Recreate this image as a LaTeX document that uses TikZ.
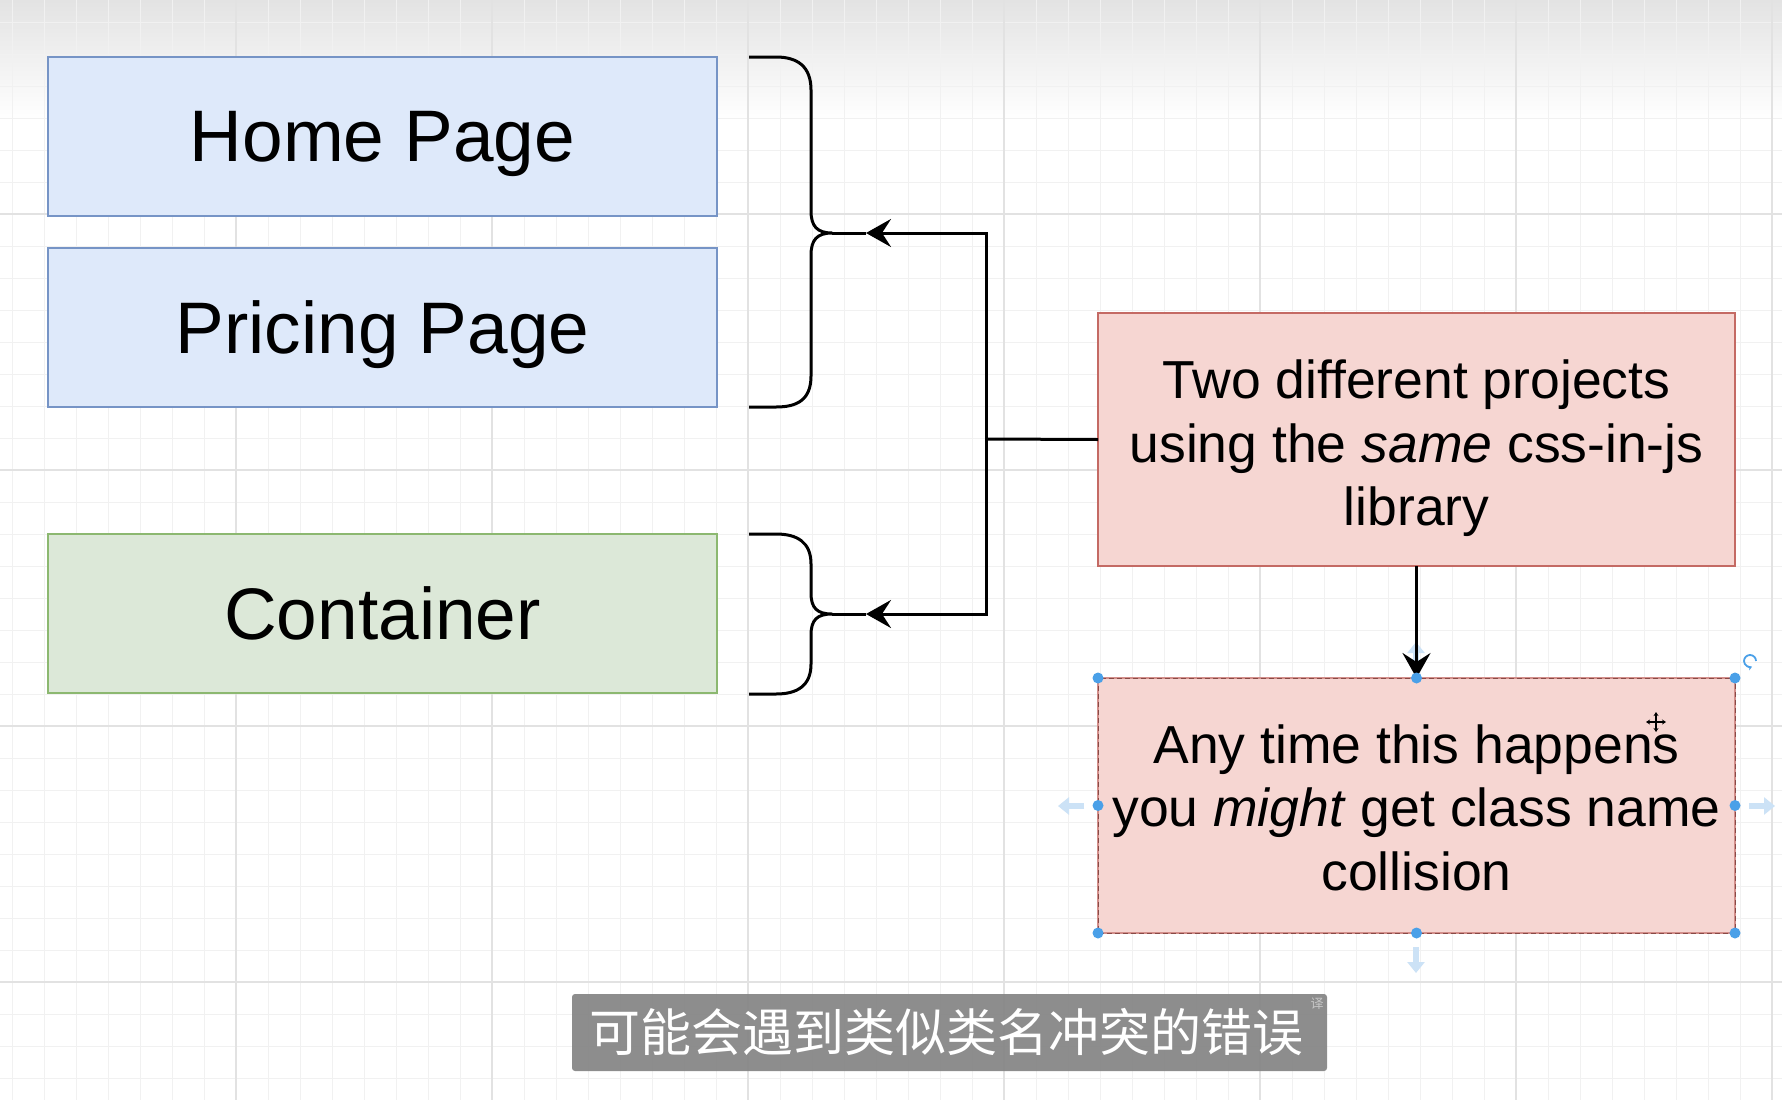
\documentclass[tikz,border=0pt]{standalone}
\usepackage{fontspec}
\setmainfont{Liberation Sans}
\newfontfamily\cjkfont{Noto Sans CJK SC}
\usetikzlibrary{arrows.meta,calc}
\definecolor{bluefill}{RGB}{222,233,250}
\definecolor{blueline}{RGB}{118,148,198}
\definecolor{greenfill}{RGB}{220,232,216}
\definecolor{greenline}{RGB}{140,184,112}
\definecolor{redfill}{RGB}{246,214,210}
\definecolor{redline}{RGB}{196,106,100}
\definecolor{handle}{RGB}{74,160,232}
\definecolor{hover}{RGB}{204,226,246}
\definecolor{gridminor}{RGB}{241,241,241}
\definecolor{gridmajor}{RGB}{226,226,226}
\definecolor{subbg}{RGB}{132,132,132}
\begin{document}
\begin{tikzpicture}[x=1pt,y=-1pt,
  box/.style={draw, line width=2.6pt, minimum width=669pt, minimum height=159pt, inner sep=0pt, outer sep=0pt, text depth=0pt, font=\fontsize{73}{88}\selectfont},
  bluebox/.style={box, fill=bluefill, draw=blueline},
  greenbox/.style={box, fill=greenfill, draw=greenline},
  notebox/.style={fill=redfill, line width=2.6pt, minimum width=637pt, inner sep=0pt, outer sep=0pt},
  notetext/.style={inner sep=0pt, align=center, font=\fontsize{53.5}{63.5}\selectfont},
  conn/.style={line width=3pt, black},
  arr/.style={conn, -{Stealth[length=25pt,width=28pt,inset=9pt]}},
  brace/.style={line width=3pt, black, line join=round},
  hoverarr/.style={line width=6pt, hover, -{Triangle[length=11pt,width=17pt]}},
]
\useasboundingbox (0,0) rectangle (1782,1100);
% background
\fill[white] (0,0) rectangle (1782,1100);
\shade[top color=gray!22, bottom color=white] (0,0) rectangle (1782,120);
\foreach \i in {0,...,55} {\draw[gridminor, line width=1pt] ({12+32*\i},0) -- ({12+32*\i},1100);}
\foreach \i in {0,...,34} {\draw[gridminor, line width=1pt] (0,{22+32*\i}) -- (1782,{22+32*\i});}
\foreach \x in {236,492,748,1004,1260,1516,1772} {\draw[gridmajor, line width=1.4pt] (\x,0) -- (\x,1100);}
\foreach \y in {214,470,726,982} {\draw[gridmajor, line width=1.4pt] (0,\y) -- (1782,\y);}

% left boxes
\node[bluebox] (home) at (382.5,136.5) {Home Page};
\node[bluebox] (pricing) at (382.5,327.5) {Pricing Page};
\node[greenbox] (container) at (382.5,613.5) {Container};

% braces
\draw[brace] (749,57) -- (776,57) .. controls (797,57) and (811,66) .. (811,90) -- (811,211)
  .. controls (811,226) and (817,233) .. (832,233) .. controls (817,233) and (811,240) .. (811,255)
  -- (811,376) .. controls (811,400) and (797,407) .. (776,407) -- (749,407);
\draw[brace] (749,534) -- (776,534) .. controls (797,534) and (811,542) .. (811,564) -- (811,593)
  .. controls (811,608) and (817,614) .. (832,614) .. controls (817,614) and (811,620) .. (811,635)
  -- (811,664) .. controls (811,686) and (797,694) .. (776,694) -- (749,694);
\coordinate (b1) at (832,233);
\coordinate (b2) at (832,614);
\coordinate (t1) at (866,233);
\coordinate (t2) at (866,614);
\coordinate (j) at (986,439);

% right boxes
\node[notebox, draw=redline, minimum height=253pt] (proj) at (1416.5,439.5) {};
\node[notetext] (projtext) at ($(proj.center)+(0,9)$)
  {Two different projects\\using the \textit{same} css-in-js\\library};
\node[notebox, minimum height=255pt] (hap) at (1416.5,805.5) {};
\node[notetext] (haptext) at ($(hap.center)+(0,2)$)
  {Any time this happens\\you \textit{might} get class name\\collision};
\draw[redline!75, line width=2pt] (hap.north west) rectangle (hap.south east);
\draw[redline!70!black, line width=1pt, dash pattern=on 5pt off 3pt] (hap.north west) rectangle (hap.south east);

% connectors
\draw[conn] (proj.west) -- (j);
\draw[arr] (j) |- (t1);
\draw[conn] (t1) -- (b1);
\draw[arr] (j) |- (t2);
\draw[conn] (t2) -- (b2);

% hover arrows (selection UI)
\draw[hoverarr] (1416,664) -- (1416,642);
\draw[hoverarr] (1084,806) -- (1058,806);
\draw[hoverarr] (1749,806) -- (1775,806);
\draw[hoverarr] (1416,947) -- (1416,973);

\draw[arr] (proj.south) -- (hap.north);

% selection handles
\foreach \a in {north west,north,north east,east,south east,south,south west,west}
  {\fill[handle] (hap.\a) circle (5.5pt);}
\draw[handle, line width=1.8pt, -{Stealth[length=4pt,width=5pt]}] (1756,661) arc[start angle=0, end angle=290, radius=6pt];
\draw[line width=1.4pt, {Stealth[length=4pt,width=5pt]}-{Stealth[length=4pt,width=5pt]}] (1646,722) -- (1666,722);
\draw[line width=1.4pt, {Stealth[length=4pt,width=5pt]}-{Stealth[length=4pt,width=5pt]}] (1656,712) -- (1656,732);

% subtitle
\node[fill=subbg, fill opacity=0.92, rounded corners=3pt, minimum width=755pt, minimum height=77pt, inner sep=0pt] (sub) at (949.5,1032.5) {};
\node[text=white, font=\cjkfont\fontsize{51}{58}\selectfont, inner sep=0pt] (subtext) at (946,1032.5)
  {可能会遇到类似类名冲突的错误};
\node[text=gray!45, font=\cjkfont\fontsize{13}{13}\selectfont, inner sep=0pt] (yi) at (1317,1004) {译};
\end{tikzpicture}
\end{document}
